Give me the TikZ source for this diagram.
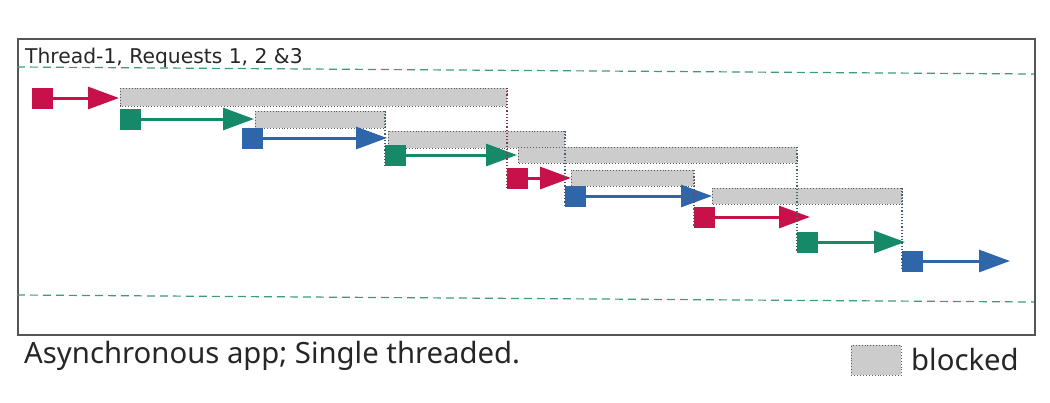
\documentclass[tikz,border=0pt]{standalone}
\usepackage{fontspec}
\setmainfont{DejaVu Sans}
\newfontfamily\capfont{Noto Sans}
\usetikzlibrary{arrows.meta}
\definecolor{reqred}{HTML}{C8104A}
\definecolor{reqgreen}{HTML}{168A68}
\definecolor{reqblue}{HTML}{2F66AA}
\definecolor{blockgray}{HTML}{CCCCCC}
\definecolor{framegray}{HTML}{555555}
\definecolor{threadline}{HTML}{3C9A80}
\begin{document}
\begin{tikzpicture}[x=1pt,y=-1pt,
  sq/.style={draw=none,fill=#1,minimum width=21pt,minimum height=21pt,inner sep=0pt,outer sep=0pt},
  work/.style={draw=#1,line width=3pt,-{Triangle[length=31pt,width=22pt]}},
  blk/.style={fill=blockgray,draw=gray!70!black,dotted,line width=0.9pt},
  link/.style={draw=#1,dotted,line width=1.2pt},
  thread/.style={draw=threadline,dashed,dash pattern=on 8pt off 5pt,line width=1.2pt}]
\useasboundingbox (0,0) rectangle (1050,402);
% frame
\node[draw=framegray,line width=1.5pt,minimum width=1017pt,minimum height=296pt,inner sep=0pt,anchor=north west] (frame) at (17,38) {};
\node[anchor=base west,inner sep=0pt,font=\fontsize{20.3}{24}\selectfont,text=black!85] (title) at (25,63) {Thread-1, Requests 1, 2 \&3};
% thread boundaries
\coordinate (t1) at (17,67); \coordinate (t2) at (1034,74);
\coordinate (b1) at (17,295); \coordinate (b2) at (1034,302);
\draw[thread] (t1) -- (t2);
\draw[thread] (b1) -- (b2);
% blocked bars (drawn first)
\coordinate (k1a) at (120,88); \coordinate (k1b) at (507,106);
\coordinate (k2a) at (255,111); \coordinate (k2b) at (385,128);
\coordinate (k3a) at (388,131); \coordinate (k3b) at (565,148);
\coordinate (k4a) at (518,147); \coordinate (k4b) at (797,163);
\coordinate (k5a) at (571,170); \coordinate (k5b) at (694,186);
\coordinate (k6a) at (712,188); \coordinate (k6b) at (902,204);
\foreach \i in {1,...,6} \path[blk] (k\i a) rectangle (k\i b);
% request steps
\node[sq=reqred]   (r1) at (42.5,98) {};
\node[sq=reqgreen] (g1) at (130.5,119) {};
\node[sq=reqblue]  (u1) at (252.5,138) {};
\node[sq=reqgreen] (g2) at (395.5,155) {};
\node[sq=reqred]   (r2) at (517.5,178) {};
\node[sq=reqblue]  (u2) at (575.5,196) {};
\node[sq=reqred]   (r3) at (704.5,217) {};
\node[sq=reqgreen] (g3) at (807.5,242) {};
\node[sq=reqblue]  (u3) at (912.5,261) {};
\coordinate (r1e) at (119,98);
\coordinate (g1e) at (254,119);
\coordinate (u1e) at (387,138);
\coordinate (g2e) at (517,155);
\coordinate (r2e) at (571,178);
\coordinate (u2e) at (712,196);
\coordinate (r3e) at (810,217);
\coordinate (g3e) at (905,242);
\coordinate (u3e) at (1010,261);
\draw[work=reqred]   (r1.east) -- (r1e);
\draw[work=reqgreen] (g1.east) -- (g1e);
\draw[work=reqblue]  (u1.east) -- (u1e);
\draw[work=reqgreen] (g2.east) -- (g2e);
\draw[work=reqred]   (r2.east) -- (r2e);
\draw[work=reqblue]  (u2.east) -- (u2e);
\draw[work=reqred]   (r3.east) -- (r3e);
\draw[work=reqgreen] (g3.east) -- (g3e);
\draw[work=reqblue]  (u3.east) -- (u3e);
% wake-up links
\draw[link=reqred!55!gray!80!black]   (k1b |- k1a) -- (r2.south west);
\draw[link=reqgreen!55!gray!80!black] (k2b |- k2a) -- (g2.south west);
\draw[link=reqblue!55!gray!80!black]  (k3b |- k3a) -- (u2.south west);
\draw[link=reqgreen!55!gray!80!black] (k4b |- k4a) -- (g3.south west);
\draw[link=reqred!35!gray!80!black]   (k5b |- k5a) -- (r3.south west);
\draw[link=reqblue!55!gray!80!black]  (k6b |- k6a) -- ([yshift=3pt]u3.south west);
% caption and legend
\node[anchor=base west,inner sep=0pt,font=\capfont\fontsize{29.3}{33}\selectfont,text=black!85] (cap) at (24,363) {Asynchronous app; Single threaded.};
\node[blk,minimum width=50pt,minimum height=30pt,inner sep=0pt,anchor=north west] (leg) at (851,345) {};
\node[anchor=base west,inner sep=0pt,font=\capfont\fontsize{29.3}{33}\selectfont,text=black!85] (legt) at (911,370) {blocked};
\end{tikzpicture}
\end{document}
